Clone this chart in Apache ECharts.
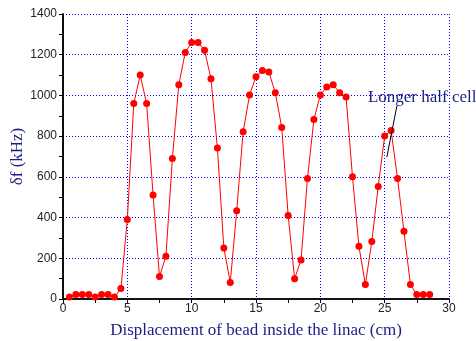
<!DOCTYPE html>
<html>
<head>
<meta charset="utf-8">
<script src="https://cdn.jsdelivr.net/npm/echarts@6/dist/echarts.min.js"></script>
<style>
  html, body { margin: 0; padding: 0; background: #fff; }
  #chart { width: 476px; height: 341px; }
</style>
</head>
<body>
<div id="chart"></div>
<script>
// displacement (cm) and frequency shift (kHz)
const positions = [0.5, 1, 1.5, 2, 2.5, 3, 3.5, 4, 4.5, 5, 5.5, 6, 6.5, 7, 7.5, 8, 8.5, 9, 9.5, 10,
  10.5, 11, 11.5, 12, 12.5, 13, 13.5, 14, 14.5, 15, 15.5, 16, 16.5, 17, 17.5, 18, 18.5, 19, 19.5, 20,
  20.5, 21, 21.5, 22, 22.5, 23, 23.5, 24, 24.5, 25, 25.5, 26, 26.5, 27, 27.5, 28, 28.5];
const shifts = [10, 22, 22, 22, 10, 22, 22, 10, 51, 390, 960, 1100, 960, 511, 110, 210, 690, 1052, 1211, 1260,
  1260, 1222, 1082, 742, 251, 81, 433, 821, 1002, 1092, 1122, 1115, 1013, 843, 410, 100, 192, 592, 882, 1002,
  1041, 1052, 1013, 992, 600, 259, 71, 282, 553, 801, 828, 592, 333, 71, 22, 22, 22];

const arrowFrom = [25.17, 697];
const arrowTo = [25.95, 948];
const noteAt = [23.7, 990];
const noteText = "Longer half cell";

const navy = "#1c1c86";
const serif = "Liberation Serif";

const chart = echarts.init(document.getElementById("chart"));

const tickLabel = { fontFamily: "Liberation Sans", fontSize: 12, color: "#222", formatter: v => String(v) };

chart.setOption({
  animation: false,
  grid: { left: 63, right: 27, top: 14, bottom: 42, containLabel: false, outerBoundsMode: "none" },
  xAxis: [{
    type: "value", min: 0, max: 30, interval: 5,
    position: "bottom",
    axisLine: { lineStyle: { color: "#555", width: 2 } },
    axisTick: { show: true, length: 4, inside: false, lineStyle: { color: "#222" } },
    minorTick: { show: true, splitNumber: 2, length: 4, lineStyle: { color: "#222" } },
    axisLabel: Object.assign({ margin: 4 }, tickLabel),
    splitLine: { show: true, lineStyle: { color: "#0000ff", type: [1, 2], width: 1 } },
    name: "Displacement of bead inside the linac (cm)",
    nameLocation: "middle", nameGap: 23, nameMoveOverlap: false,
    nameTextStyle: { fontFamily: serif, fontSize: 17, color: navy }
  }, {
    type: "value", min: 0, max: 30, interval: 5,
    position: "top",
    axisLine: { lineStyle: { color: "#000", width: 1.5 } },
    axisTick: { show: true, length: 4, inside: true, lineStyle: { color: "#000" } },
    minorTick: { show: true, splitNumber: 2, length: 4, lineStyle: { color: "#000" } },
    axisLabel: { show: false },
    splitLine: { show: false }
  }],
  yAxis: [{
    type: "value", min: 0, max: 1400, interval: 200,
    position: "left",
    axisLine: { show: true, lineStyle: { color: "#000", width: 1.5 } },
    axisTick: { show: true, length: 4, inside: false, lineStyle: { color: "#000" } },
    minorTick: { show: true, splitNumber: 2, length: 4, lineStyle: { color: "#000" } },
    axisLabel: Object.assign({ margin: 6 }, tickLabel),
    splitLine: { show: true, lineStyle: { color: "#0000ff", type: [1, 2], width: 1 } },
    name: "\u03b4f (kHz)",
    nameLocation: "middle", nameGap: 37, nameMoveOverlap: false,
    nameTextStyle: { fontFamily: serif, fontSize: 17, color: navy }
  }, {
    type: "value", min: 0, max: 1400, interval: 200,
    position: "right",
    axisLine: { show: true, lineStyle: { color: "#000", width: 1.5 } },
    axisTick: { show: true, length: 4, inside: true, lineStyle: { color: "#000" } },
    minorTick: { show: true, splitNumber: 2, length: 4, lineStyle: { color: "#000" } },
    axisLabel: { show: false },
    splitLine: { show: false }
  }],
  series: [{
    type: "line",
    data: positions.map((x, i) => [x, shifts[i]]),
    symbol: "circle",
    symbolSize: 7,
    lineStyle: { color: "#ff0000", width: 1 },
    itemStyle: { color: "#ff0000" },
    markLine: {
      silent: true,
      symbol: ["none", "arrow"],
      symbolSize: [0, 8],
      lineStyle: { color: "#000", width: 1, type: "solid" },
      label: { show: false },
      data: [[{ coord: arrowFrom }, { coord: arrowTo }]]
    },
    markPoint: {
      silent: true,
      symbol: "rect",
      symbolSize: 0,
      label: {
        show: true, position: "right", distance: 0,
        formatter: noteText,
        fontFamily: serif, fontSize: 17, color: navy
      },
      data: [{ coord: noteAt }]
    }
  }]
});
</script>
</body>
</html>
